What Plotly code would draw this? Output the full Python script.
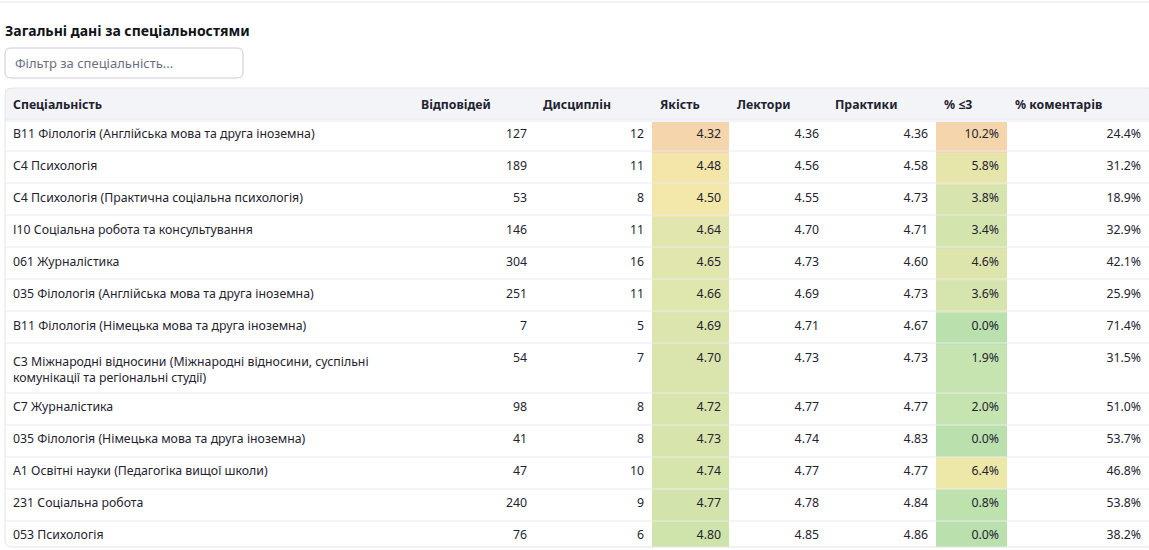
import plotly.graph_objects as go
from plotly.colors import hex_to_rgb

W, H = 1149, 550

specialties = [
    "В11 Філологія (Англійська мова та друга іноземна)",
    "С4 Психологія",
    "С4 Психологія (Практична соціальна психологія)",
    "І10 Соціальна робота та консультування",
    "061 Журналістика",
    "035 Філологія (Англійська мова та друга іноземна)",
    "В11 Філологія (Німецька мова та друга іноземна)",
    "С3 Міжнародні відносини (Міжнародні відносини, суспільні<br>комунікації та регіональні студії)",
    "С7 Журналістика",
    "035 Філологія (Німецька мова та друга іноземна)",
    "А1 Освітні науки (Педагогіка вищої школи)",
    "231 Соціальна робота",
    "053 Психологія",
]
responses = [127, 189, 53, 146, 304, 251, 7, 54, 98, 41, 47, 240, 76]
disciplines = [12, 11, 8, 11, 16, 11, 5, 7, 8, 8, 10, 9, 6]
quality = [4.32, 4.48, 4.50, 4.64, 4.65, 4.66, 4.69, 4.70, 4.72, 4.73, 4.74, 4.77, 4.80]
lecturers = [4.36, 4.56, 4.55, 4.70, 4.73, 4.69, 4.71, 4.73, 4.77, 4.74, 4.77, 4.78, 4.85]
practice = [4.36, 4.58, 4.73, 4.71, 4.60, 4.73, 4.67, 4.73, 4.77, 4.83, 4.77, 4.84, 4.86]
low_share = [10.2, 5.8, 3.8, 3.4, 4.6, 3.6, 0.0, 1.9, 2.0, 0.0, 6.4, 0.8, 0.0]
comment_share = [24.4, 31.2, 18.9, 32.9, 42.1, 25.9, 71.4, 31.5, 51.0, 53.7, 46.8, 53.8, 38.2]

headers = ["Спеціальність", "Відповідей", "Дисциплін", "Якість", "Лектори",
           "Практики", "% ≤3", "% коментарів"]

# heat colours (value -> colour stops)
quality_stops = [(4.32, "#f5d5ab"), (4.49, "#f4e7a9"), (4.65, "#e0e6ae"), (4.80, "#cfe4ab")]
low_stops = [(0.0, "#b9e0ad"), (2.0, "#c6e4b0"), (3.6, "#d6e4ad"), (5.8, "#e6e6aa"),
             (6.4, "#ede8a8"), (10.2, "#f5d5ab")]


def shade(v, stops):
    if v <= stops[0][0]:
        return stops[0][1]
    for (a, ca), (b, cb) in zip(stops, stops[1:]):
        if v <= b:
            t = (v - a) / (b - a)
            ra, rb = hex_to_rgb(ca), hex_to_rgb(cb)
            r, g, bl = (round(x + (y - x) * t) for x, y in zip(ra, rb))
            return f"rgb({r},{g},{bl})"
    return stops[-1][1]


n = len(specialties)
white = ["white"] * n
fills = [white, white, white,
         [shade(v, quality_stops) for v in quality],
         white, white,
         [shade(v, low_stops) for v in low_share],
         white]

cols = [
    specialties,
    [str(v) for v in responses],
    [str(v) for v in disciplines],
    [f"{v:.2f}" for v in quality],
    [f"{v:.2f}" for v in lecturers],
    [f"{v:.2f}" for v in practice],
    [f"{v:.1f}%" for v in low_share],
    [f"{v:.1f}%" for v in comment_share],
]


def px(x):
    return x / W


def py(y):
    return 1 - y / H


FONT = "Noto Sans, Open Sans, sans-serif"
TEXT = "#1f2330"
HEAD_H, ROW_H, ROW2_H = 31, 32, 50
TOP = 88

fig = go.Figure(go.Table(
    domain=dict(x=[px(5), 1], y=[py(548), py(TOP)]),
    columnwidth=[408, 122, 117, 77, 98, 109, 71, 142],
    header=dict(
        values=[f"<b>{h}</b>" for h in headers],
        align="left",
        fill_color="#f3f4f8",
        line=dict(color="#f3f4f8", width=1),
        font=dict(family=FONT, size=12.3, color=TEXT),
        height=HEAD_H,
    ),
    cells=dict(
        values=cols,
        align=["left"] + ["right"] * 7,
        fill_color=fills,
        line=dict(color=fills, width=1),
        font=dict(family=FONT, size=12.3, color=TEXT),
        height=ROW_H,
    ),
))


def rounded(x0, y0, x1, y1, r):
    a, b, c, d = px(x0), py(y0), px(x1), py(y1)
    rx, ry = r / W, r / H
    return (f"M{a + rx},{b} L{c - rx},{b} Q{c},{b} {c},{b - ry} L{c},{d + ry} "
            f"Q{c},{d} {c - rx},{d} L{a + rx},{d} Q{a},{d} {a},{d + ry} "
            f"L{a},{b - ry} Q{a},{b} {a + rx},{b} Z")


# row separators (follow the table's row heights)
y = TOP + HEAD_H
for s in specialties:
    fig.add_shape(type="line", xref="paper", yref="paper", x0=px(5), x1=1, y0=py(y), y1=py(y),
                  line=dict(color="#eaebf0", width=1), layer="above")
    y += ROW2_H if "<br>" in s else ROW_H

fig.add_shape(type="line", xref="paper", yref="paper", x0=0, x1=1, y0=py(2), y1=py(2),
              line=dict(color="#e6e7ec", width=1))
fig.add_shape(type="path", xref="paper", yref="paper", path=rounded(5, 48, 243, 78, 6),
              line=dict(color="#c9ccd6", width=1), fillcolor="white")
fig.add_shape(type="path", xref="paper", yref="paper", path=rounded(5, TOP, 1156, 547, 8),
              line=dict(color="#e3e5ea", width=1), layer="above")

fig.add_annotation(text="<b>Загальні дані за спеціальностями</b>", xref="paper", yref="paper",
                   x=px(3), y=py(30), xanchor="left", yanchor="middle", showarrow=False,
                   font=dict(family=FONT, size=14, color="#111318"))
fig.add_annotation(text="Фільтр за спеціальність...", xref="paper", yref="paper",
                   x=px(13), y=py(63), xanchor="left", yanchor="middle", showarrow=False,
                   font=dict(family=FONT, size=13, color="#6b7080"))

fig.update_layout(
    width=W, height=H,
    margin=dict(l=0, r=0, t=0, b=0),
    paper_bgcolor="white",
    plot_bgcolor="white",
)

fig.write_html("out.html", config={"displayModeBar": False},
               post_script="document.body.style.margin='0';")
